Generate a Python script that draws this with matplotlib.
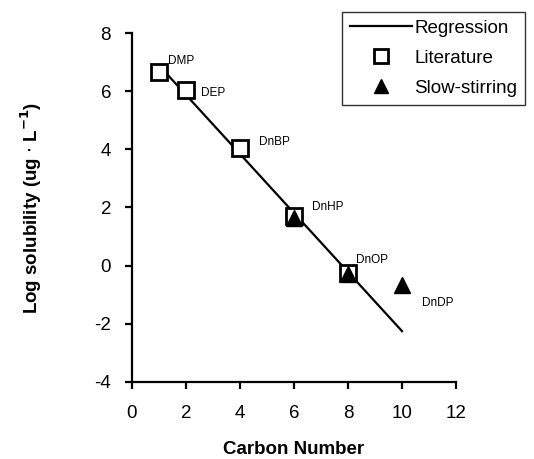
import matplotlib
matplotlib.use('Agg')
import matplotlib.pyplot as plt
import numpy as np

plt.rcParams['font.family'] = ['Liberation Sans', 'DejaVu Sans']
plt.rcParams['axes.unicode_minus'] = False

# literature values (square markers)
lit_carbon = [1, 2, 4, 6, 8]
lit_logsol = [6.65, 6.05, 4.05, 1.72, -0.27]

# slow-stirring measurements (triangles)
ss_carbon = [6, 8, 10]
ss_logsol = [1.65, -0.3, -0.66]

# compound labels
names = ['DMP', 'DEP', 'DnBP', 'DnHP', 'DnOP', 'DnDP']
name_x = [1.35, 2.55, 4.7, 6.65, 8.3, 10.75]
name_y = [7.05, 5.95, 4.25, 2.0, 0.2, -1.3]

# regression on literature data, drawn over carbon 1..10
slope, icpt = np.polyfit(lit_carbon, lit_logsol, 1)
reg_x = np.array([1, 10])
reg_y = slope * reg_x + icpt

fig = plt.figure(figsize=(5.34, 4.59), dpi=100)
ax = fig.add_axes([0.247, 0.168, 0.607, 0.760])

ax.plot(reg_x, reg_y, color='black', lw=1.6, label='Regression', zorder=2)
ax.plot(lit_carbon, lit_logsol, 's', ms=11.5, mfc='white', mec='black', mew=2,
        label='Literature', zorder=3)
ax.plot(ss_carbon, ss_logsol, '^', ms=11.5, color='black', label='Slow-stirring',
        zorder=4)

for n, x, y in zip(names, name_x, name_y):
    ax.text(x, y, n, fontsize=8.5, va='center', ha='left', clip_on=False)

ax.set_xlim(0, 12)
ax.set_ylim(-4, 8)
ax.set_xticks(range(0, 13, 2))
ax.set_yticks(range(-4, 9, 2))

for s in ['top', 'right']:
    ax.spines[s].set_visible(False)
for s in ['left', 'bottom']:
    ax.spines[s].set_linewidth(1.6)
ax.tick_params(direction='out', length=5, width=1.6, labelsize=13.5)
ax.tick_params(axis='x', pad=12)
ax.tick_params(axis='y', pad=10)

ax.set_xlabel('Carbon Number', fontsize=13.5, fontweight='bold', labelpad=13)
ax.set_ylabel(r'Log solubility (ug $\cdot$ L$^{\mathbf{-1}}$)', fontsize=13.5,
              fontweight='bold', labelpad=36)

leg = ax.legend(loc='upper right', bbox_to_anchor=(0.983, 0.974),
                bbox_transform=fig.transFigure, fontsize=13.5, frameon=True,
                fancybox=False, edgecolor='black', handlelength=3.3,
                borderpad=0.4, labelspacing=0.7, handletextpad=0.15,
                markerscale=0.85, borderaxespad=0)
leg.get_frame().set_linewidth(1.0)

fig.savefig('out.png', dpi=100)
